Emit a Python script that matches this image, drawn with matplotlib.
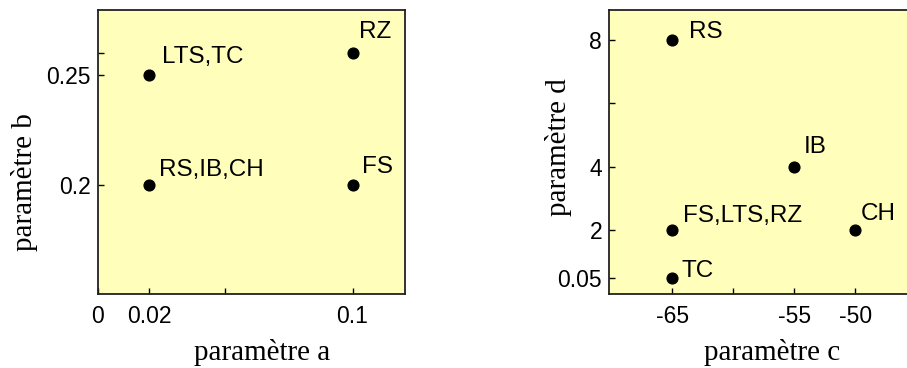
import matplotlib
matplotlib.use("Agg")
import matplotlib.pyplot as plt

# ---- data ----
labels_ab = ["LTS,TC", "RS,IB,CH", "RZ", "FS"]
param_a = [0.02, 0.02, 0.1, 0.1]
param_b = [0.25, 0.2, 0.26, 0.2]

labels_cd = ["RS", "IB", "FS,LTS,RZ", "CH", "TC"]
param_c = [-65, -55, -65, -50, -65]
param_d = [8, 4, 2, 2, 0.5]   # TC drawn at 0.5 position, labelled "0.05"

a_ticks = [0, 0.02, 0.05, 0.1]
a_ticklabels = ["0", "0.02", "", "0.1"]
b_ticks = [0.2, 0.25, 0.26]
b_ticklabels = ["0.2", "0.25", ""]
c_ticks = [-65, -60, -55, -50]
c_ticklabels = ["-65", "", "-55", "-50"]
d_ticks = [0.5, 2, 4, 6, 8]
d_ticklabels = ["0.05", "2", "4", "", "8"]

# label offsets (pixels)
off_ab = [(13, 12), (10, 9), (6, 15), (9, 12)]
off_cd = [(17, 2), (9, 14), (11, 8), (5, 10), (9, 1)]

BG = "#FFFFBB"
sans = ["Liberation Sans", "DejaVu Sans"]
serif = ["Liberation Serif", "DejaVu Serif"]

fig = plt.figure(figsize=(9.07, 3.68), dpi=100)
W, H = 907, 368

def px_axes(l, t, r, b):
    return [l / W, 1 - b / H, (r - l) / W, (b - t) / H]

ax1 = fig.add_axes(px_axes(98, 10, 405, 294))
ax2 = fig.add_axes(px_axes(609, 10, 915, 294))

def style(ax):
    ax.set_facecolor(BG)
    for s in ax.spines.values():
        s.set_linewidth(1.3)
        s.set_color("#222222")
    ax.tick_params(direction="in", length=4, width=1.0, top=False, right=False,
                   labelsize=16.5, colors="black")
    for t in ax.get_xticklabels() + ax.get_yticklabels():
        t.set_fontfamily(sans)

ax1.scatter(param_a, param_b, s=60, color="black", zorder=3)
ax1.set_xlim(0, 0.1206)
ax1.set_ylim(0.1505, 0.2795)
ax1.set_xticks(a_ticks)
ax1.set_xticklabels(a_ticklabels)
ax1.set_yticks(b_ticks)
ax1.set_yticklabels(b_ticklabels)
ax1.tick_params(axis="x", pad=8)
ax1.tick_params(axis="y", pad=5)
for lab, x, y, (dx, dy) in zip(labels_ab, param_a, param_b, off_ab):
    ax1.annotate(lab, (x, y), xytext=(dx * 0.72, dy * 0.72), textcoords="offset points",
                 fontsize=17.5, family=sans, va="baseline", ha="left")
style(ax1)

ax2.scatter(param_c, param_d, s=60, color="black", zorder=3)
ax2.set_xlim(-70.2, -45.1)
ax2.set_ylim(0, 8.94)
ax2.set_xticks(c_ticks)
ax2.set_xticklabels(c_ticklabels)
ax2.set_yticks(d_ticks)
ax2.set_yticklabels(d_ticklabels)
ax2.tick_params(axis="x", pad=8)
ax2.tick_params(axis="y", pad=5)
for lab, x, y, (dx, dy) in zip(labels_cd, param_c, param_d, off_cd):
    ax2.annotate(lab, (x, y), xytext=(dx * 0.72, dy * 0.72), textcoords="offset points",
                 fontsize=17.5, family=sans, va="baseline", ha="left")
style(ax2)

fig.text(262 / W, 1 - 352 / H, "paramètre a", family=serif, fontsize=21,
         ha="center", va="center")
fig.text(25 / W, 1 - 182 / H, "paramètre b", family=serif, fontsize=21,
         ha="center", va="center", rotation=90)
fig.text(772 / W, 1 - 352 / H, "paramètre c", family=serif, fontsize=21,
         ha="center", va="center")
fig.text(558 / W, 1 - 147 / H, "paramètre d", family=serif, fontsize=21,
         ha="center", va="center", rotation=90)

fig.savefig("out.png", dpi=100, facecolor="white")
